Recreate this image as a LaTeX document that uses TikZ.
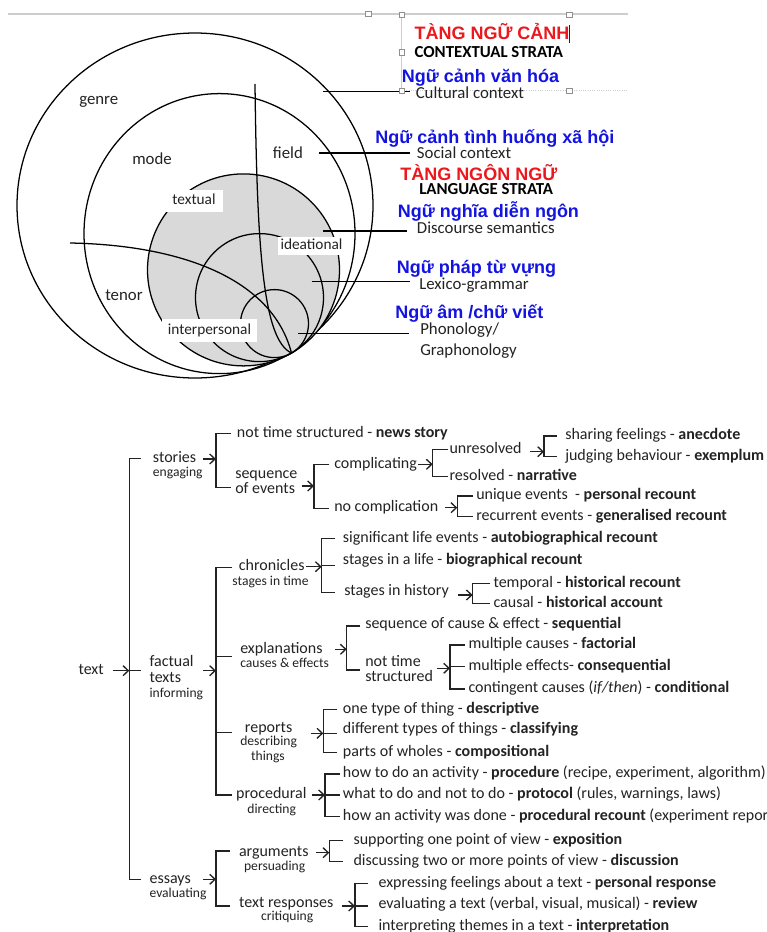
\documentclass[tikz,border=0pt]{standalone}
\usepackage{fontspec}
\setmainfont{Carlito}
\newfontfamily\vnfont{Liberation Sans}
\usetikzlibrary{arrows.meta}
\definecolor{tcol}{RGB}{35,35,35}
\definecolor{vblue}{RGB}{20,20,225}
\definecolor{vred}{RGB}{235,25,30}
\definecolor{shadegray}{RGB}{217,217,217}
\definecolor{artif}{RGB}{205,205,205}
\newcommand\szmain{\fontsize{12}{14}\selectfont}
\newcommand\szsub{\fontsize{10.2}{12}\selectfont}
\newcommand\szlab{\fontsize{12.6}{15}\selectfont}
\newcommand\szbox{\fontsize{11.5}{14}\selectfont}
\newcommand\szvn{\vnfont\bfseries\fontsize{13.5}{16}\selectfont}
\newcommand\szstrata{\bfseries\fontsize{12.6}{15}\selectfont}
\begin{document}
\begin{tikzpicture}[x=0.75pt,y=-0.75pt,
  cl/.style={line width=0.95pt, draw=black},
  ld/.style={line width=0.8pt, draw=black},
  tl/.style={line width=0.9pt, draw=tcol},
  ar/.style={tl, -{Straight Barb[length=4pt,width=7.5pt,line width=1pt]}},
  tx/.style={anchor=west, inner sep=0pt, text height=5.6pt, text depth=0pt, font=\szmain, text=tcol},
  ts/.style={anchor=west, inner sep=0pt, text height=4.75pt, text depth=0pt, font=\szsub, text=tcol},
  clab/.style={anchor=west, inner sep=0pt, text height=5.87pt, text depth=0pt, font=\szlab, text=tcol},
  wbox/.style={fill=white, inner sep=0pt, text height=5.36pt, text depth=0pt, font=\szbox, text=tcol},
  rl/.style={anchor=west, inner sep=0pt, text height=8.1pt, text depth=0pt, font=\szlab, text=tcol},
  strata/.style={anchor=west, inner sep=0pt, text height=8.1pt, text depth=0pt, font=\szstrata, text=black},
  vn/.style={anchor=west, inner sep=0pt, text height=9.67pt, text depth=0pt, font=\szvn, text=vblue},
  vnred/.style={vn, text=vred},
  handle/.style={draw=artif!70!black, line width=0.4pt, fill=white, minimum size=4pt, inner sep=0pt}
]
\useasboundingbox (0,0) rectangle (767,932);
\fill[white] (0,0) rectangle (767,932);

% ---------- selection artefacts ----------
\draw[artif, line width=1.3pt] (8,13.8) -- (628,13.8);
\draw[artif, line width=0.5pt] (401.7,15) -- (401.7,90.5);
\draw[artif, line width=0.7pt, densely dotted] (401.7,90.5) -- (628,90.5);
\draw[tcol, line width=0.5pt] (569.3,25) -- (569.3,43);

% ---------- circles ----------
\draw[cl] (195,205.5) ellipse [x radius=178, y radius=172.5];
\draw[cl] (219.5,233.6) ellipse [x radius=135.5, y radius=140];
\filldraw[cl, fill=shadegray] (243.5,269.9) circle [radius=96];
\draw[cl] (259.5,297.6) circle [radius=64];
\draw[cl] (274.5,323.6) circle [radius=34];
\coordinate (P) at (291.5,353);
\coordinate (vtop) at (255,84);
\coordinate (hleft) at (70,243);
\draw[cl] (vtop) .. controls (257,250) and (263,340) .. (P);
\draw[cl] (hleft) .. controls (180,245) and (272,278) .. (P);

% ---------- leader lines ----------
\coordinate (l1a) at (323.3,91.7); \coordinate (l1b) at (410,91.7);
\coordinate (l2a) at (319,153);    \coordinate (l2b) at (410,153);
\coordinate (l3a) at (322.7,231);  \coordinate (l3b) at (406.7,231);
\coordinate (l4a) at (311.7,281.7);\coordinate (l4b) at (410,281.7);
\coordinate (l5a) at (298.3,333.3);\coordinate (l5b) at (409.3,333.3);
\draw[ld] (l1a) -- (l1b);
\draw[ld] (l2a) -- (l2b);
\draw[ld] (l3a) -- (l3b);
\draw[ld] (l4a) -- (l4b);
\draw[ld] (l5a) -- (l5b);

% handles
\node[handle] (h1) at (368.3,14) {};
\node[handle] (h2) at (401.7,15) {};
\node[handle] (h3) at (569.3,15) {};
\node[handle] (h4) at (401.7,52.3) {};
\node[handle] (h5) at (401.7,91) {};
\node[handle] (h6) at (569.3,91) {};

% ---------- circle labels ----------
\node[clab] (genre) at (79,100.5) {genre};
\node[clab] (mode) at (132,160.3) {mode};
\node[clab] (field) at (272.7,154.3) {field};
\node[clab] (tenor) at (105,296.7) {tenor};
\node[wbox, minimum width=43.5pt, minimum height=16.5pt] (textual) at (194,201) {textual};
\node[wbox, minimum width=50.25pt, minimum height=13.5pt] (ideational) at (311.5,246) {ideational};
\node[wbox, minimum width=71.25pt, minimum height=17.25pt] (interp) at (209.5,330.5) {interpersonal};

% ---------- right labels ----------
\node[vnred] (tnc) at (414.3,33.3) {TÀNG NGỮ CẢNH};
\node[strata] (cs) at (414.3,52.2) {CONTEXTUAL STRATA};
\node[vn] (vn1) at (401.7,76.3) {Ngữ cảnh văn hóa};
\node[rl] (cc) at (415.5,92.8) {Cultural context};
\node[vn] (vn2) at (375,137.5) {Ngữ cảnh tình huống xã hội};
\node[rl] (sc) at (416.7,153.5) {Social context};
\node[vnred] (tnn) at (400,173.7) {TÀNG NGÔN NGỮ};
\node[strata] (ls) at (419,189.2) {LANGUAGE STRATA};
\node[vn] (vn3) at (397.7,211.2) {Ngữ nghĩa diễn ngôn};
\node[rl] (ds) at (416.7,228.3) {Discourse semantics};
\node[vn] (vn4) at (396.7,267) {Ngữ pháp từ vựng};
\node[rl] (lg) at (419,283.8) {Lexico-grammar};
\node[vn] (vn5) at (395,311.8) {Ngữ âm /chữ viết};
\node[rl] (ph) at (420,329.2) {Phonology/};
\node[rl] (gph) at (420,350) {Graphonology};

% ================= TREE =================
% main spine
\draw[tl] (141,458.3) -- (129.3,458.3) -- (129.3,879.3) -- (141,879.3);
\draw[tl] (129.3,670.7) -- (141,670.7);
\node[tx] (text) at (78.3,670.7) {text};
\coordinate (spine) at (129.3,670.7);
\draw[ar] (112.7,670.7) -- (spine);

% --- stories ---
\node[tx] (stories) at (152.7,459) {stories};
\node[ts] (engaging) at (152.7,473.3) {engaging};
\coordinate (bS) at (216,459);
\draw[ar] (203.3,459) -- (bS);
\draw[tl] (231,433.3) -- (216,433.3) -- (216,487.7) -- (231,487.7);
\node[tx] (news) at (236.7,433.3) {not time structured - \textbf{news story}};
\node[tx] (seq) at (235,474.3) {sequence};
\node[tx] (seq2) at (235,490) {of events};
\coordinate (bSeq) at (314,486);
\draw[ar] (301.7,486) -- (bSeq);
\draw[tl] (329.3,464.3) -- (314,464.3) -- (314,508.3) -- (329.3,508.3);
\node[tx] (compl) at (334,464.3) {complicating};
\coordinate (bC) at (432.7,464.3);
\draw[ar] (418,464.3) -- (bC);
\draw[tl] (448.3,449.3) -- (432.7,449.3) -- (432.7,476.7) -- (448.3,476.7);
\node[tx] (unres) at (449.3,449.3) {unresolved};
\coordinate (bU) at (544,451.7);
\draw[ar] (530,451.7) -- (bU);
\draw[tl] (556.7,436) -- (544,436) -- (544,456.7) -- (556.7,456.7);
\node[tx] (anec) at (565,435.3) {sharing feelings - \textbf{anecdote}};
\node[tx] (exem) at (565,456.7) {judging behaviour - \textbf{exemplum}};
\node[tx] (narr) at (449.3,476.7) {resolved - \textbf{narrative}};
\node[tx] (nocomp) at (334,507.7) {no complication};
\coordinate (bN) at (457.3,507.7);
\draw[ar] (445,507.7) -- (bN);
\draw[tl] (473.3,496) -- (457.3,496) -- (457.3,516.7) -- (473.3,516.7);
\node[tx] (persrec) at (476,496) {unique events\ \ - \textbf{personal recount}};
\node[tx] (genrec) at (476,516.7) {recurrent events - \textbf{generalised recount}};

% --- factual ---
\node[tx] (fact) at (149.3,662.7) {factual};
\node[tx] (fact2) at (149.3,678.7) {texts};
\node[ts] (inform) at (149.3,694) {informing};
\coordinate (bF) at (216,670.7);
\draw[ar] (203.3,670.7) -- (bF);
\draw[tl] (231.7,567.3) -- (216,567.3) -- (216,795) -- (231.7,795);
\draw[tl] (216,656.7) -- (231.7,656.7);
\draw[tl] (216,732.3) -- (231.7,732.3);

% chronicles
\node[tx, anchor=center] (chron) at (271.8,566.7) {chronicles};
\node[ts, anchor=center] (chron2) at (270.5,582.3) {stages in time};
\coordinate (bCh) at (321.7,566.7);
\draw[ar] (306,566.7) -- (bCh);
\draw[tl] (335,538.3) -- (321.7,538.3) -- (321.7,592.3) -- (335,592.3);
\draw[tl] (321.7,565.7) -- (335,565.7);
\node[tx] (autob) at (342.7,538.3) {significant life events - \textbf{autobiographical recount}};
\node[tx] (biog) at (342.7,560.7) {stages in a life - \textbf{biographical recount}};
\node[tx] (hist) at (344,591.7) {stages in history};
\coordinate (bH) at (472.7,595);
\draw[ar] (458.3,595) -- (bH);
\draw[tl] (490,583.3) -- (472.7,583.3) -- (472.7,603.3) -- (490,603.3);
\node[tx] (histrec) at (493.3,583.3) {temporal - \textbf{historical recount}};
\node[tx] (histacc) at (493.3,603.3) {causal - \textbf{historical account}};

% explanations
\node[tx] (expl) at (240,650) {explanations};
\node[ts] (expl2) at (240,664.3) {causes \& effects};
\coordinate (bE) at (346.7,649.3);
\draw[ar] (335,649.3) -- (bE);
\draw[tl] (360,626) -- (346.7,626) -- (346.7,670) -- (360,670);
\node[tx] (seql) at (365,625) {sequence of cause \& effect - \textbf{sequential}};
\node[tx] (ntime) at (365,662.3) {not time};
\node[tx] (ntime2) at (365,677.7) {structured};
\coordinate (bNT) at (450,668.3);
\draw[ar] (436.7,668.3) -- (bNT);
\draw[tl] (465,645) -- (450,645) -- (450,689) -- (465,689);
\draw[tl] (450,666.7) -- (465,666.7);
\node[tx] (factl) at (468.3,645) {multiple causes - \textbf{factorial}};
\node[tx] (consq) at (468.3,666.7) {multiple effects- \textbf{consequential}};
\node[tx] (condl) at (468.3,689) {contingent causes (\textit{if/then}) - \textbf{conditional}};

% reports
\node[tx, anchor=center] (rep) at (268.6,728.3) {reports};
\node[ts, anchor=center] (rep2) at (268.6,742.7) {describing};
\node[ts, anchor=center] (rep3) at (267.9,757.3) {things};
\coordinate (bR) at (323.3,733.3);
\draw[ar] (310.7,733.3) -- (bR);
\draw[tl] (337.3,709.3) -- (323.3,709.3) -- (323.3,752.7) -- (337.3,752.7);
\draw[tl] (323.3,733.3) -- (337.3,733.3);
\node[tx] (descr) at (342.7,709.3) {one type of thing - \textbf{descriptive}};
\node[tx] (classif) at (342.7,730) {different types of things - \textbf{classifying}};
\node[tx] (compos) at (342.7,752.7) {parts of wholes - \textbf{compositional}};

% procedural
\node[tx, anchor=center] (proc) at (271.3,795) {procedural};
\node[ts, anchor=center] (proc2) at (271.7,810) {directing};
\coordinate (bP) at (325,795);
\draw[ar] (311.7,795) -- (bP);
\draw[tl] (340,774) -- (325,774) -- (325,816.7) -- (340,816.7);
\draw[tl] (325,795) -- (340,795);
\node[tx] (procd) at (342.7,774) {how to do an activity - \textbf{procedure} (recipe, experiment, algorithm)};
\node[tx] (protc) at (342.7,795) {what to do and not to do - \textbf{protocol} (rules, warnings, laws)};
\node[tx] (procr) at (342.7,816.7) {how an activity was done - \textbf{procedural recount} (experiment report)};

% --- essays ---
\node[tx] (ess) at (149.3,879.3) {essays};
\node[ts] (ess2) at (149.3,894) {evaluating};
\coordinate (bEs) at (216,879.3);
\draw[ar] (203.3,879.3) -- (bEs);
\draw[tl] (230,851) -- (216,851) -- (216,906) -- (230,906);
\node[tx, anchor=center] (arg) at (273.8,852.7) {arguments};
\node[ts, anchor=center] (arg2) at (274.7,867.3) {persuading};
\coordinate (bA) at (329.3,852.7);
\draw[ar] (316,852.7) -- (bA);
\draw[tl] (343.3,840.7) -- (329.3,840.7) -- (329.3,861.7) -- (343.3,861.7);
\node[tx] (expo) at (353.3,840.7) {supporting one point of view - \textbf{exposition}};
\node[tx] (disc) at (353.3,861.7) {discussing two or more points of view - \textbf{discussion}};
\node[tx, anchor=center] (tresp) at (286.3,904) {text responses};
\node[ts, anchor=center] (tresp2) at (287.2,917.3) {critiquing};
\coordinate (bT) at (355,906);
\draw[ar] (341.7,906) -- (bT);
\draw[tl] (368.3,883.3) -- (355,883.3) -- (355,926.7) -- (368.3,926.7);
\draw[tl] (355,906) -- (368.3,906);
\node[tx] (persr) at (378.3,883.3) {expressing feelings about a text - \textbf{personal response}};
\node[tx] (revw) at (378.3,905) {evaluating a text (verbal, visual, musical) - \textbf{review}};
\node[tx] (interp2) at (378.3,926.7) {interpreting themes in a text - \textbf{interpretation}};
\end{tikzpicture}
\end{document}
